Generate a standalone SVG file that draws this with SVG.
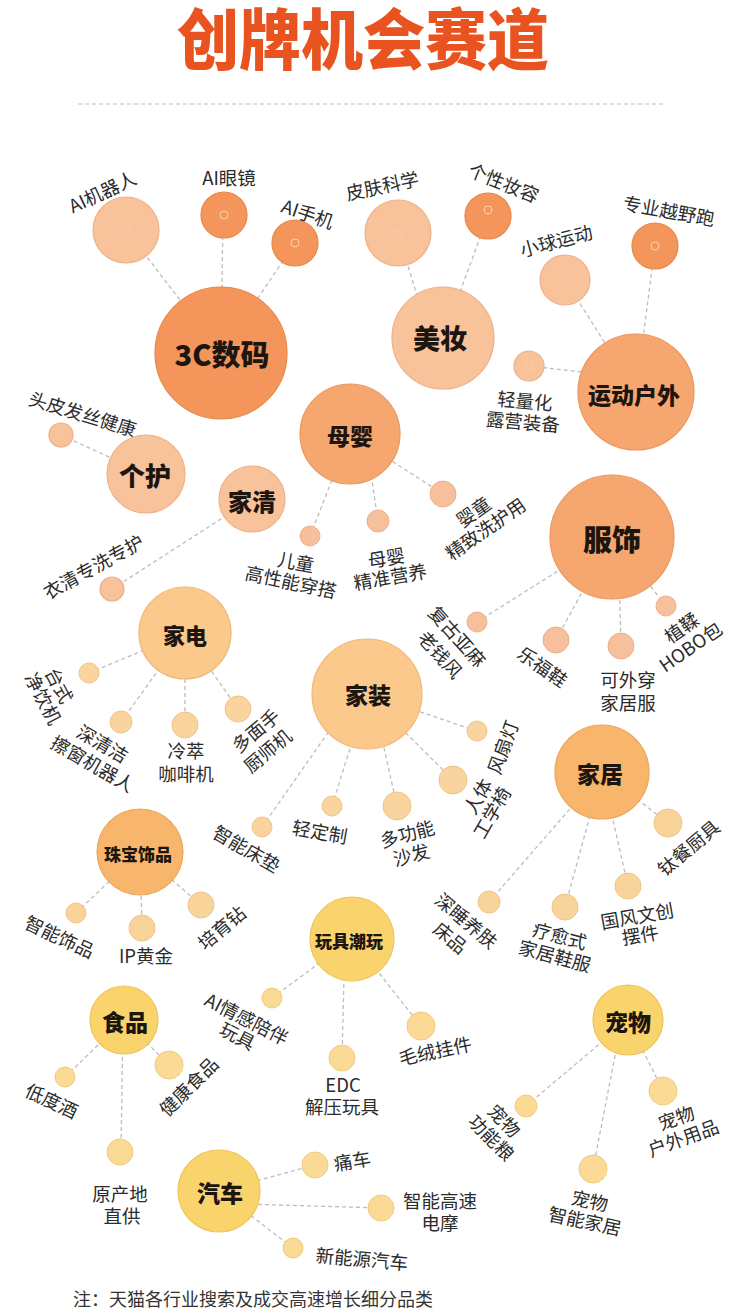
<svg xmlns="http://www.w3.org/2000/svg" width="750" height="1316" viewBox="0 0 750 1316">
<style>
.c1{fill:#F4965C;stroke:#E88748;stroke-width:1.2}
.c2{fill:#F8C39B;stroke:#EEB087;stroke-width:1.2}
.c3{fill:#F6A770;stroke:#EC965E;stroke-width:1.2}
.c3s{fill:#F7C09C;stroke:#EEB08A;stroke-width:1}
.c4{fill:#FAC98B;stroke:#F0B878;stroke-width:1.2}
.c4s{fill:#FAD49E;stroke:#F0C488;stroke-width:1}
.c5{fill:#F7B66B;stroke:#EDA65C;stroke-width:1.2}
.c5s{fill:#F9D49A;stroke:#EFC486;stroke-width:1}
.c6{fill:#F9D36B;stroke:#EFC45C;stroke-width:1.2}
.c6s{fill:#FADA94;stroke:#F0CB80;stroke-width:1}
.ring{fill:none;stroke:#FBD2B0;stroke-width:1}
.lk{stroke:#BDBDBD;stroke-width:1.3;stroke-dasharray:4 3;fill:none}
.lb{font-family:"Noto Sans CJK SC","Noto Sans",sans-serif;font-size:18.5px;fill:#2b2b2b;text-anchor:middle;dominant-baseline:central}
.mn{font-family:"Noto Sans CJK SC","Noto Sans",sans-serif;font-weight:900;fill:#1d1510;text-anchor:middle;dominant-baseline:central}
</style>

<text transform="translate(363 64) scale(1 1.07)" font-family="'Noto Sans CJK SC',sans-serif" font-weight="900" font-size="62" fill="#E8531F" text-anchor="middle">创牌机会赛道</text>
<line x1="78" y1="104" x2="665" y2="104" stroke="#BDBDBD" stroke-width="1" stroke-dasharray="4 3"/>

<g id="connectors">
<line class="lk" x1="126" y1="230" x2="221" y2="353"/>
<line class="lk" x1="223" y1="215" x2="221" y2="353"/>
<line class="lk" x1="295" y1="243" x2="221" y2="353"/>
<line class="lk" x1="398" y1="233" x2="430" y2="338"/>
<line class="lk" x1="488" y1="216" x2="443" y2="338"/>
<line class="lk" x1="565" y1="280" x2="636" y2="392"/>
<line class="lk" x1="655" y1="246" x2="636" y2="392"/>
<line class="lk" x1="529" y1="366" x2="600" y2="374"/>
<line class="lk" x1="61" y1="435" x2="146" y2="474"/>
<line class="lk" x1="112" y1="589" x2="252" y2="499"/>
<line class="lk" x1="310" y1="536" x2="350" y2="434"/>
<line class="lk" x1="378" y1="521" x2="365" y2="434"/>
<line class="lk" x1="443" y1="494" x2="350" y2="434"/>
<line class="lk" x1="477" y1="622" x2="612" y2="537"/>
<line class="lk" x1="556" y1="640" x2="612" y2="537"/>
<line class="lk" x1="621" y1="646" x2="618" y2="537"/>
<line class="lk" x1="666" y1="606" x2="612" y2="537"/>
<line class="lk" x1="89" y1="673" x2="185" y2="633"/>
<line class="lk" x1="121" y1="722" x2="185" y2="633"/>
<line class="lk" x1="185" y1="725" x2="185" y2="633"/>
<line class="lk" x1="238" y1="709" x2="185" y2="633"/>
<line class="lk" x1="262" y1="827" x2="355" y2="694"/>
<line class="lk" x1="332" y1="806" x2="367" y2="694"/>
<line class="lk" x1="397" y1="806" x2="372" y2="694"/>
<line class="lk" x1="453" y1="780" x2="367" y2="694"/>
<line class="lk" x1="477" y1="731" x2="367" y2="694"/>
<line class="lk" x1="489" y1="902" x2="602" y2="772"/>
<line class="lk" x1="565" y1="907" x2="602" y2="772"/>
<line class="lk" x1="628" y1="886" x2="602" y2="772"/>
<line class="lk" x1="668" y1="823" x2="602" y2="772"/>
<line class="lk" x1="76" y1="913" x2="140" y2="852"/>
<line class="lk" x1="142" y1="928" x2="140" y2="852"/>
<line class="lk" x1="201" y1="905" x2="140" y2="852"/>
<line class="lk" x1="272" y1="998" x2="352" y2="939"/>
<line class="lk" x1="342" y1="1058" x2="345" y2="939"/>
<line class="lk" x1="421" y1="1026" x2="352" y2="939"/>
<line class="lk" x1="65" y1="1077" x2="124" y2="1020"/>
<line class="lk" x1="169" y1="1065" x2="124" y2="1020"/>
<line class="lk" x1="121" y1="1152" x2="123" y2="1020"/>
<line class="lk" x1="315" y1="1165" x2="219" y2="1191"/>
<line class="lk" x1="381" y1="1208" x2="245" y2="1204"/>
<line class="lk" x1="293" y1="1248" x2="219" y2="1191"/>
<line class="lk" x1="526" y1="1106" x2="628" y2="1020"/>
<line class="lk" x1="593" y1="1169" x2="622" y2="1020"/>
<line class="lk" x1="663" y1="1091" x2="628" y2="1020"/>
</g>

<g id="n-3c"><circle class="c1" cx="221" cy="353" r="66"/><text class="mn" x="222" y="353" font-size="29">3C数码</text></g>
<g id="n-3c-robot"><circle class="c2" cx="126" cy="230" r="33"/><circle class="ring" cx="126" cy="230" r="4" opacity="0.5"/><text class="lb" transform="translate(102 191) rotate(-25)">AI机器人</text></g>
<g id="n-3c-glasses"><circle class="c1" cx="224" cy="215" r="23"/><circle class="ring" cx="224" cy="215" r="4"/><text class="lb" transform="translate(229 177)">AI眼镜</text></g>
<g id="n-3c-phone"><circle class="c1" cx="295" cy="243" r="23"/><circle class="ring" cx="295" cy="243" r="4"/><text class="lb" transform="translate(308 213) rotate(19)">AI手机</text></g>

<g id="n-beauty"><circle class="c2" cx="443" cy="338" r="51"/><text class="mn" x="440" y="337" font-size="27">美妆</text></g>
<g id="n-beauty-skin"><circle class="c2" cx="398" cy="233" r="33"/><circle class="ring" cx="398" cy="233" r="4" opacity="0.6"/><text class="lb" transform="translate(382 185) rotate(-12)">皮肤科学</text></g>
<g id="n-beauty-makeup"><circle class="c1" cx="488" cy="216" r="23"/><circle class="ring" cx="488" cy="210" r="4"/><text class="lb" transform="translate(504 182) rotate(22)">个性妆容</text></g>

<g id="n-sport"><circle class="c3" cx="636" cy="392" r="58"/><text class="mn" x="634" y="394" font-size="23">运动户外</text></g>
<g id="n-sport-ball"><circle class="c2" cx="565" cy="280" r="25"/><circle class="ring" cx="565" cy="280" r="4" opacity="0.6"/><text class="lb" transform="translate(556 240) rotate(-15)">小球运动</text></g>
<g id="n-sport-trail"><circle class="c1" cx="655" cy="246" r="23"/><circle class="ring" cx="655" cy="246" r="4"/><text class="lb" transform="translate(669 210) rotate(10)">专业越野跑</text></g>
<g id="n-sport-camp"><circle class="c2" cx="529" cy="366" r="15"/><circle class="ring" cx="529" cy="366" r="4" opacity="0.6"/><text class="lb" transform="translate(525 400) rotate(5)">轻量化</text><text class="lb" transform="translate(523 421) rotate(5)">露营装备</text></g>

<g id="n-care"><circle class="c2" cx="146" cy="474" r="39"/><text class="mn" x="145" y="474" font-size="26">个护</text></g>
<g id="n-care-scalp"><circle class="c2" cx="61" cy="435" r="12"/><text class="lb" transform="translate(83 413) rotate(17)">头皮发丝健康</text></g>

<g id="n-clean"><circle class="c2" cx="252" cy="499" r="33"/><text class="mn" x="252" y="500" font-size="24">家清</text></g>
<g id="n-clean-laundry"><circle class="c2" cx="112" cy="589" r="12"/><text class="lb" transform="translate(93 566) rotate(-29)">衣清专洗专护</text></g>

<g id="n-baby"><circle class="c3" cx="350" cy="434" r="50"/><text class="mn" x="350" y="435" font-size="23">母婴</text></g>
<g id="n-baby-wear"><circle class="c3s" cx="310" cy="536" r="10"/><text class="lb" transform="translate(296 561) rotate(10)">儿童</text><text class="lb" transform="translate(291 581) rotate(12)">高性能穿搭</text></g>
<g id="n-baby-nutrition"><circle class="c3s" cx="378" cy="521" r="11"/><text class="lb" transform="translate(386 557) rotate(-10)">母婴</text><text class="lb" transform="translate(390 576) rotate(-10)">精准营养</text></g>
<g id="n-baby-wash"><circle class="c3s" cx="443" cy="494" r="13"/><text class="lb" transform="translate(473 511) rotate(-35)">婴童</text><text class="lb" transform="translate(485 528) rotate(-35)">精致洗护用</text></g>

<g id="n-fashion"><circle class="c3" cx="612" cy="537" r="62"/><text class="mn" x="612" y="538" font-size="29">服饰</text></g>
<g id="n-fashion-linen"><circle class="c3s" cx="477" cy="622" r="10"/><text class="lb" transform="translate(458 636) rotate(48)">复古亚麻</text><text class="lb" transform="translate(441 654) rotate(48)">老钱风</text></g>
<g id="n-fashion-loafer"><circle class="c3s" cx="556" cy="640" r="13"/><text class="lb" transform="translate(543 666) rotate(35)">乐福鞋</text></g>
<g id="n-fashion-home"><circle class="c3s" cx="621" cy="646" r="13"/><text class="lb" x="628" y="679">可外穿</text><text class="lb" x="628" y="702">家居服</text></g>
<g id="n-fashion-hobo"><circle class="c3s" cx="666" cy="606" r="10"/><text class="lb" transform="translate(681 627) rotate(-35)">植鞣</text><text class="lb" transform="translate(690 646) rotate(-35)">HOBO包</text></g>

<g id="n-appliance"><circle class="c4" cx="185" cy="633" r="46"/><text class="mn" x="185" y="634" font-size="22">家电</text></g>
<g id="n-app-water"><circle class="c4s" cx="89" cy="673" r="10"/><text class="lb" transform="translate(60 685) rotate(62)">台式</text><text class="lb" transform="translate(44 698) rotate(62)">净饮机</text></g>
<g id="n-app-window"><circle class="c4s" cx="121" cy="722" r="11"/><text class="lb" transform="translate(103 743) rotate(30)">深清洁</text><text class="lb" transform="translate(93 763) rotate(30)">擦窗机器人</text></g>
<g id="n-app-coffee"><circle class="c4s" cx="185" cy="725" r="13"/><text class="lb" x="186" y="750">冷萃</text><text class="lb" x="186" y="773">咖啡机</text></g>
<g id="n-app-chef"><circle class="c4s" cx="238" cy="709" r="13"/><text class="lb" transform="translate(255 730) rotate(-40)">多面手</text><text class="lb" transform="translate(267 750) rotate(-40)">厨师机</text></g>

<g id="n-deco"><circle class="c4" cx="367" cy="694" r="55"/><text class="mn" x="368" y="694" font-size="23">家装</text></g>
<g id="n-deco-mattress"><circle class="c4s" cx="262" cy="827" r="10"/><text class="lb" transform="translate(247 848) rotate(30)">智能床垫</text></g>
<g id="n-deco-custom"><circle class="c4s" cx="332" cy="806" r="10"/><text class="lb" transform="translate(320 831) rotate(10)">轻定制</text></g>
<g id="n-deco-sofa"><circle class="c4s" cx="397" cy="806" r="14"/><text class="lb" transform="translate(407 833) rotate(-15)">多功能</text><text class="lb" transform="translate(411 854) rotate(-15)">沙发</text></g>
<g id="n-deco-chair"><circle class="c4s" cx="453" cy="780" r="14"/><text class="lb" transform="translate(477 796) rotate(-60)">人体</text><text class="lb" transform="translate(491 812) rotate(-60)">工学椅</text></g>
<g id="n-deco-fan"><circle class="c4s" cx="477" cy="731" r="10"/><text class="lb" transform="translate(502 747) rotate(-70)">风扇灯</text></g>

<g id="n-home"><circle class="c5" cx="602" cy="772" r="47"/><text class="mn" x="600" y="773" font-size="23">家居</text></g>
<g id="n-home-bed"><circle class="c5s" cx="489" cy="902" r="11"/><text class="lb" transform="translate(467 920) rotate(40)">深睡养肤</text><text class="lb" transform="translate(451 937) rotate(40)">床品</text></g>
<g id="n-home-shoes"><circle class="c5s" cx="565" cy="907" r="13"/><text class="lb" transform="translate(560 935) rotate(15)">疗愈式</text><text class="lb" transform="translate(555 955) rotate(15)">家居鞋服</text></g>
<g id="n-home-craft"><circle class="c5s" cx="628" cy="886" r="13"/><text class="lb" transform="translate(637 915) rotate(-10)">国风文创</text><text class="lb" transform="translate(640 934) rotate(-10)">摆件</text></g>
<g id="n-home-ti"><circle class="c5s" cx="668" cy="823" r="14"/><text class="lb" transform="translate(688 847) rotate(-40)">钛餐厨具</text></g>

<g id="n-jewel"><circle class="c5" cx="140" cy="852" r="43"/><text class="mn" x="138" y="853" font-size="17">珠宝饰品</text></g>
<g id="n-jewel-smart"><circle class="c5s" cx="76" cy="913" r="10"/><text class="lb" transform="translate(60 936) rotate(25)">智能饰品</text></g>
<g id="n-jewel-gold"><circle class="c5s" cx="142" cy="928" r="13"/><text class="lb" x="146" y="955">IP黄金</text></g>
<g id="n-jewel-diamond"><circle class="c5s" cx="201" cy="905" r="13"/><text class="lb" transform="translate(221 927) rotate(-40)">培育钻</text></g>

<g id="n-toy"><circle class="c6" cx="352" cy="939" r="42"/><text class="mn" x="349" y="940" font-size="17">玩具潮玩</text></g>
<g id="n-toy-ai"><circle class="c6s" cx="272" cy="998" r="10"/><text class="lb" transform="translate(247 1018) rotate(27)">AI情感陪伴</text><text class="lb" transform="translate(238 1035) rotate(27)">玩具</text></g>
<g id="n-toy-edc"><circle class="c6s" cx="342" cy="1058" r="13"/><text class="lb" x="343" y="1084">EDC</text><text class="lb" x="342" y="1106">解压玩具</text></g>
<g id="n-toy-plush"><circle class="c6s" cx="421" cy="1026" r="14"/><text class="lb" transform="translate(435 1050) rotate(-12)">毛绒挂件</text></g>

<g id="n-food"><circle class="c6" cx="124" cy="1020" r="34"/><text class="mn" x="125" y="1021" font-size="23">食品</text></g>
<g id="n-food-wine"><circle class="c6s" cx="65" cy="1077" r="10"/><text class="lb" transform="translate(52 1100) rotate(25)">低度酒</text></g>
<g id="n-food-health"><circle class="c6s" cx="169" cy="1065" r="14"/><text class="lb" transform="translate(188 1086) rotate(-45)">健康食品</text></g>
<g id="n-food-origin"><circle class="c6s" cx="120" cy="1152" r="13"/><text class="lb" x="120" y="1193">原产地</text><text class="lb" x="122" y="1215">直供</text></g>

<g id="n-car"><circle class="c6" cx="219" cy="1191" r="41"/><text class="mn" x="220" y="1192" font-size="23">汽车</text></g>
<g id="n-car-ita"><circle class="c6s" cx="315" cy="1165" r="13"/><text class="lb" transform="translate(352 1160) rotate(-10)">痛车</text></g>
<g id="n-car-moto"><circle class="c6s" cx="381" cy="1208" r="13"/><text class="lb" x="440" y="1200">智能高速</text><text class="lb" x="440" y="1222">电摩</text></g>
<g id="n-car-nev"><circle class="c6s" cx="293" cy="1248" r="10"/><text class="lb" transform="translate(362 1258) rotate(5)">新能源汽车</text></g>

<g id="n-pet"><circle class="c6" cx="628" cy="1020" r="35"/><text class="mn" x="628" y="1021" font-size="23">宠物</text></g>
<g id="n-pet-food"><circle class="c6s" cx="526" cy="1106" r="11"/><text class="lb" transform="translate(505 1120) rotate(45)">宠物</text><text class="lb" transform="translate(492 1137) rotate(45)">功能粮</text></g>
<g id="n-pet-smart"><circle class="c6s" cx="593" cy="1169" r="14"/><text class="lb" transform="translate(590 1200) rotate(12)">宠物</text><text class="lb" transform="translate(585 1220) rotate(12)">智能家居</text></g>
<g id="n-pet-outdoor"><circle class="c6s" cx="663" cy="1091" r="14"/><text class="lb" transform="translate(676 1117) rotate(-20)">宠物</text><text class="lb" transform="translate(683 1137) rotate(-20)">户外用品</text></g>

<text x="73" y="1306" font-family="'Noto Sans CJK SC',sans-serif" font-size="18" fill="#333">注：天猫各行业搜索及成交高速增长细分品类</text>
</svg>
